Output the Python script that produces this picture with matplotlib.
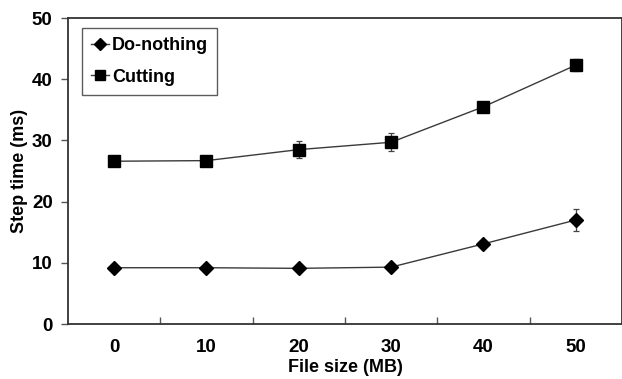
import matplotlib
matplotlib.use("Agg")
import matplotlib.pyplot as plt
from matplotlib.lines import Line2D
import numpy as np

file_sizes = ["0", "10", "20", "30", "40", "50"]
do_nothing = [9.2, 9.2, 9.1, 9.3, 13.1, 17.0]
do_nothing_err = [0.3, 0.3, 0.3, 0.3, 0.4, 1.85]
cutting = [26.6, 26.7, 28.5, 29.7, 35.5, 42.3]
cutting_err = [0.5, 0.7, 1.45, 1.5, 0.7, 1.0]

plt.rcParams["font.family"] = ["Liberation Sans", "DejaVu Sans"]
plt.rcParams["font.weight"] = "bold"

fig = plt.figure(figsize=(6.22, 3.79), dpi=100)
ax = fig.add_axes([0.1093, 0.145, 0.8907, 0.8075])

x = np.arange(len(file_sizes))
line_color = "#3a3a3a"
ax.errorbar(x, do_nothing, yerr=do_nothing_err, color=line_color, lw=1.0,
            marker="D", ms=7, mfc="black", mec="black", ecolor="#444444",
            elinewidth=0.9, capsize=2.5, capthick=0.9)
ax.errorbar(x, cutting, yerr=cutting_err, color=line_color, lw=1.0,
            marker="s", ms=9, mfc="black", mec="black", ecolor="#444444",
            elinewidth=0.9, capsize=2.5, capthick=0.9)

ax.set_xlim(-0.5, len(file_sizes) - 0.5)
ax.set_ylim(0, 50)
ax.set_yticks(range(0, 51, 10))
ax.set_xticks(x)
ax.set_xticklabels(file_sizes)
ax.set_xticks(np.arange(0.5, len(file_sizes) - 1, 1.0), minor=True)
ax.tick_params(axis="x", which="major", length=0, labelsize=13.5, pad=11)
ax.tick_params(axis="x", which="minor", direction="in", length=5, width=1, color="#555555")
ax.tick_params(axis="y", direction="out", length=5, width=1, color="#555555",
               labelsize=13.5, pad=6)

for side in ["left", "bottom", "top", "right"]:
    ax.spines[side].set_color("#333333")
    ax.spines[side].set_linewidth(1.3)

ax.set_xlabel("File size (MB)", fontsize=13, fontweight="bold", labelpad=2)
ax.set_ylabel("Step time (ms)", fontsize=13, fontweight="bold", labelpad=3)

handles = [
    Line2D([], [], color=line_color, lw=1.0, marker="D", ms=6, mfc="black", mec="black"),
    Line2D([], [], color=line_color, lw=1.0, marker="s", ms=7, mfc="black", mec="black"),
]
leg = ax.legend(handles, ["Do-nothing", "Cutting"], loc="upper left",
                bbox_to_anchor=(0.026, 0.967), fontsize=13,
                frameon=True, fancybox=False, handlelength=1.0, handletextpad=0.15,
                borderpad=0.5, labelspacing=0.8, borderaxespad=0)
leg.get_frame().set_edgecolor("#333333")
leg.get_frame().set_linewidth(1.0)

fig.savefig("out.png", dpi=100)
